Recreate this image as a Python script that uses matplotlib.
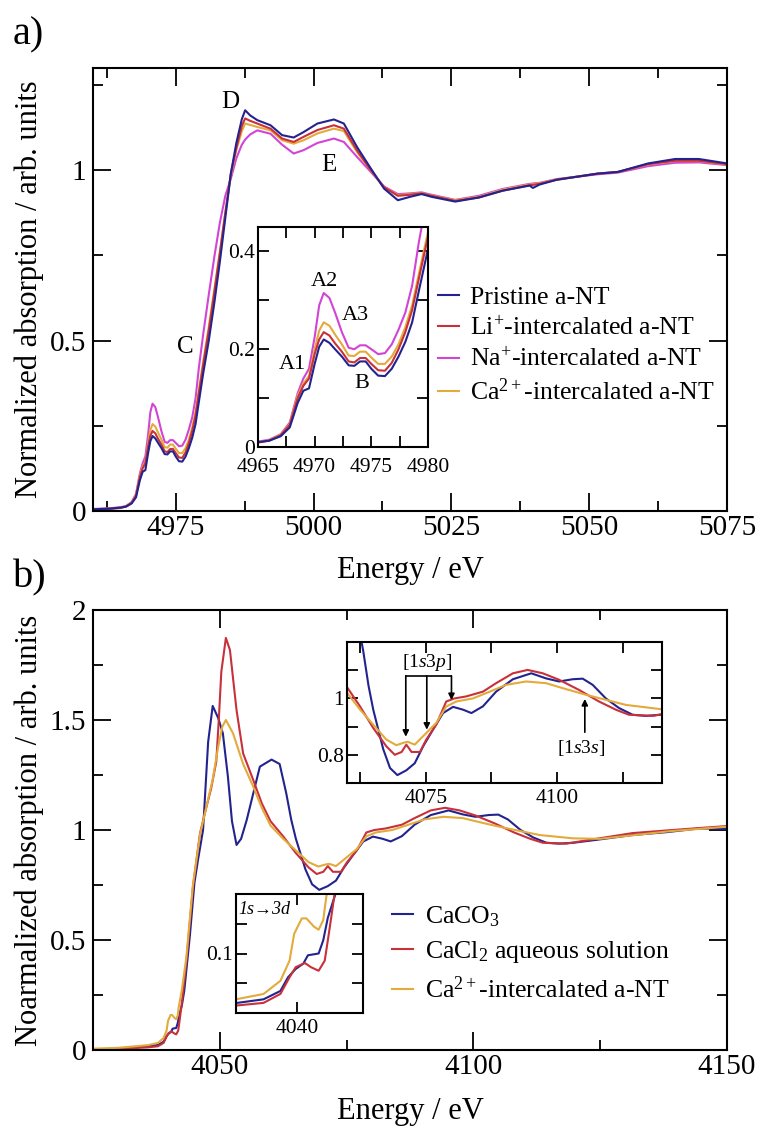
import numpy as np
import matplotlib
matplotlib.use("Agg")
import matplotlib.pyplot as plt
from matplotlib.ticker import MultipleLocator, FormatStrFormatter
from matplotlib.lines import Line2D

plt.rcParams['font.family'] = ['Liberation Serif', 'DejaVu Serif']
plt.rcParams['mathtext.fontset'] = 'custom'
plt.rcParams['mathtext.rm'] = 'Liberation Serif'
plt.rcParams['mathtext.it'] = 'Liberation Serif:italic'

# ---- panel a data (Ti K-edge) ----
E_a = [4960, 4963, 4965, 4966, 4967, 4967.8, 4968.5, 4969.0, 4969.5, 4970.0,
       4970.4, 4970.8, 4971.3, 4971.8, 4972.4, 4973.0, 4973.5, 4974.0, 4974.5, 4975.0,
       4975.6, 4976.2, 4976.8, 4977.4, 4978.0, 4978.6, 4979.2, 4980, 4981, 4982,
       4983, 4984, 4985, 4986, 4987, 4987.6, 4988.5, 4989.8, 4992.2, 4994.3,
       4996.4, 4998.2, 5000.7, 5003.7, 5005.5, 5007.9, 5010.4, 5012.8, 5015.3, 5017.5,
       5019.6, 5021.4, 5025.7, 5030, 5034.3, 5039.2, 5039.8, 5041, 5044.1, 5051.5,
       5055.2, 5060.7, 5065.6, 5069.9, 5075]

pristine = [0.005, 0.007, 0.010, 0.013, 0.022, 0.040, 0.090, 0.115, 0.120, 0.170,
            0.205, 0.220, 0.213, 0.200, 0.185, 0.167, 0.166, 0.175, 0.175, 0.160,
            0.146, 0.145, 0.160, 0.185, 0.215, 0.255, 0.320, 0.405, 0.500, 0.610,
            0.730, 0.860, 0.990, 1.080, 1.150, 1.176, 1.161, 1.147, 1.132, 1.103,
            1.096, 1.112, 1.137, 1.149, 1.137, 1.068, 1.005, 0.946, 0.912, 0.922,
            0.930, 0.922, 0.908, 0.920, 0.940, 0.955, 0.948, 0.958, 0.972, 0.990,
            0.995, 1.020, 1.033, 1.033, 1.020]

li_nt = [0.004, 0.006, 0.009, 0.013, 0.024, 0.045, 0.100, 0.125, 0.140, 0.190,
         0.220, 0.235, 0.228, 0.212, 0.195, 0.175, 0.173, 0.182, 0.182, 0.170,
         0.157, 0.156, 0.172, 0.200, 0.235, 0.280, 0.345, 0.430, 0.530, 0.640,
         0.755, 0.875, 0.990, 1.065, 1.130, 1.152, 1.145, 1.137, 1.122, 1.093,
         1.083, 1.098, 1.118, 1.132, 1.122, 1.058, 1.000, 0.950, 0.925, 0.928,
         0.932, 0.925, 0.910, 0.920, 0.940, 0.956, 0.957, 0.960, 0.972, 0.990,
         0.995, 1.018, 1.028, 1.028, 1.018]

na_nt = [0.006, 0.008, 0.011, 0.015, 0.026, 0.050, 0.110, 0.140, 0.160, 0.225,
         0.290, 0.315, 0.305, 0.275, 0.235, 0.203, 0.200, 0.208, 0.208, 0.200,
         0.190, 0.192, 0.210, 0.240, 0.275, 0.330, 0.420, 0.520, 0.635, 0.745,
         0.845, 0.925, 0.975, 1.035, 1.075, 1.090, 1.105, 1.117, 1.107, 1.075,
         1.049, 1.059, 1.080, 1.093, 1.083, 1.039, 0.995, 0.952, 0.930, 0.932,
         0.935, 0.928, 0.913, 0.925, 0.945, 0.960, 0.961, 0.963, 0.974, 0.988,
         0.993, 1.012, 1.022, 1.023, 1.015]

ca_nt = [0.005, 0.007, 0.010, 0.014, 0.025, 0.047, 0.105, 0.130, 0.145, 0.200,
         0.238, 0.255, 0.248, 0.230, 0.210, 0.187, 0.186, 0.195, 0.195, 0.183,
         0.170, 0.170, 0.185, 0.210, 0.245, 0.290, 0.355, 0.440, 0.540, 0.650,
         0.760, 0.875, 0.985, 1.060, 1.115, 1.137, 1.133, 1.127, 1.117, 1.088,
         1.078, 1.088, 1.108, 1.122, 1.115, 1.053, 1.000, 0.950, 0.927, 0.930,
         0.933, 0.926, 0.912, 0.922, 0.943, 0.958, 0.959, 0.962, 0.973, 0.990,
         0.995, 1.017, 1.027, 1.027, 1.017]

labels_a = ["Pristine a-NT", "Li$^{+}$-intercalated a-NT",
            "Na$^{+}$-intercalated a-NT", "Ca$^{2+}$-intercalated a-NT"]

# ---- panel b data (Ca K-edge) ----
E_caco3 = [4025, 4030, 4035.8, 4037.8, 4038.9, 4039.4, 4039.9, 4040.4, 4040.7, 4041.4,
           4041.7, 4042.0, 4042.5, 4043.0, 4044.1, 4045.0, 4045.7, 4046.7, 4047.7, 4048.6,
           4049.7, 4050.6, 4051.6, 4052.4, 4053.3, 4054.2, 4055.3, 4057.9, 4060.2, 4061.8,
           4063.1, 4064.1, 4065.0, 4066.9, 4068.2, 4069.6, 4071.3, 4072.9, 4074.5, 4076.4,
           4078.3, 4080.2, 4082.1, 4083.7, 4085.9, 4088.4, 4091.6, 4095.1, 4097.9, 4100.4,
           4103.0, 4104.9, 4106.8, 4109.3, 4111.8, 4114.4, 4116.9, 4119.7, 4124.2, 4131.3,
           4138.0, 4144.5, 4150]
caco3 = [0.003, 0.006, 0.016, 0.023, 0.037, 0.060, 0.074, 0.083, 0.097, 0.100,
         0.122, 0.160, 0.200, 0.270, 0.520, 0.760, 0.864, 1.000, 1.400, 1.564,
         1.508, 1.440, 1.242, 1.040, 0.932, 0.960, 1.045, 1.288, 1.320, 1.300,
         1.167, 1.045, 0.960, 0.820, 0.753, 0.728, 0.745, 0.770, 0.830, 0.890,
         0.948, 0.970, 0.960, 0.948, 0.972, 1.024, 1.068, 1.089, 1.071, 1.060,
         1.068, 1.070, 1.048, 1.000, 0.966, 0.942, 0.938, 0.942, 0.955, 0.977,
         0.990, 1.007, 1.005]

E_cacl2 = [4025, 4030, 4035.8, 4037.8, 4038.9, 4039.5, 4039.9, 4040.5, 4040.9, 4041.4,
           4041.8, 4042.1, 4042.5, 4043.4, 4044.7, 4046.1, 4047.2, 4048.3, 4049.3, 4049.8,
           4050.3, 4051.2, 4052.0, 4053.3, 4054.6, 4056.6, 4058.3, 4060.0, 4062.5, 4065.0,
           4067.5, 4069.1, 4070.4, 4071.3, 4072.3, 4073.9, 4075.1, 4077.0, 4078.9, 4080.5,
           4082.7, 4085.9, 4088.4, 4091.6, 4094.4, 4097.3, 4100.4, 4104.2, 4108.0, 4111.2,
           4113.7, 4118.3, 4124.8, 4131.4, 4139.3, 4150]
cacl2 = [0.003, 0.005, 0.012, 0.017, 0.032, 0.060, 0.077, 0.084, 0.077, 0.071,
         0.088, 0.139, 0.210, 0.400, 0.740, 0.985, 1.090, 1.190, 1.310, 1.500,
         1.720, 1.873, 1.818, 1.545, 1.348, 1.227, 1.120, 1.040, 0.971, 0.895,
         0.830, 0.800, 0.810, 0.836, 0.810, 0.810, 0.854, 0.907, 0.989, 1.000,
         1.007, 1.024, 1.054, 1.089, 1.101, 1.089, 1.066, 1.030, 0.989, 0.960,
         0.942, 0.938, 0.962, 0.986, 1.000, 1.018]

E_cant = [4025, 4030, 4035.8, 4037.8, 4038.9, 4039.5, 4039.8, 4040.3, 4040.6, 4041.1,
          4041.4, 4041.7, 4041.9, 4042.5, 4043.4, 4044.7, 4046.1, 4047.5, 4048.6, 4049.7,
          4050.5, 4051.2, 4052.6, 4054.6, 4056.6, 4058.3, 4060.0, 4062.5, 4065.0, 4067.5,
          4069.4, 4071.0, 4071.6, 4072.9, 4074.5, 4077.0, 4078.9, 4080.8, 4084.0, 4087.2,
          4090.3, 4094.1, 4097.9, 4101.7, 4105.5, 4109.3, 4113.1, 4119.7, 4125.0, 4131.0,
          4139.0, 4150]
cant = [0.006, 0.010, 0.022, 0.032, 0.054, 0.088, 0.133, 0.159, 0.159, 0.145,
        0.140, 0.156, 0.195, 0.270, 0.420, 0.750, 0.980, 1.120, 1.230, 1.380,
        1.470, 1.500, 1.440, 1.300, 1.197, 1.100, 1.020, 0.960, 0.907, 0.854,
        0.834, 0.844, 0.846, 0.836, 0.866, 0.913, 0.971, 0.989, 1.000, 1.024,
        1.048, 1.060, 1.054, 1.033, 1.013, 0.995, 0.977, 0.962, 0.960, 0.975,
        0.995, 1.015]

labels_b = ["CaCO$_3$", "CaCl$_2$ aqueous solution", "Ca$^{2+}$-intercalated a-NT"]

c_blue = '#23238f'
c_red = '#c8303a'
c_mag = '#d244d6'
c_gold = '#e3aa3c'
lw = 1.5

W, H = 759, 1126
fig = plt.figure(figsize=(W / 100, H / 100), dpi=100)


def box(l, t, r, b):
    # pixel box -> figure fraction
    return [l / W, 1 - b / H, (r - l) / W, (b - t) / H]


def style(ax, size, major, minor, pad_x, pad_y):
    ax.tick_params(which='both', direction='in', top=True, right=True,
                   width=1.3, labelsize=size)
    ax.tick_params(axis='x', pad=pad_x)
    ax.tick_params(axis='y', pad=pad_y)
    ax.tick_params(which='major', length=major)
    ax.tick_params(which='minor', length=minor)
    for s in ax.spines.values():
        s.set_linewidth(1.5)
    ax.xaxis.set_major_formatter(FormatStrFormatter('%g'))
    ax.yaxis.set_major_formatter(FormatStrFormatter('%g'))


def draw_a(ax):
    ax.plot(E_a, na_nt, color=c_mag, lw=lw)
    ax.plot(E_a, ca_nt, color=c_gold, lw=lw)
    ax.plot(E_a, li_nt, color=c_red, lw=lw)
    ax.plot(E_a, pristine, color=c_blue, lw=lw)


def draw_b(ax):
    ax.plot(E_caco3, caco3, color=c_blue, lw=lw)
    ax.plot(E_cacl2, cacl2, color=c_red, lw=lw)
    ax.plot(E_cant, cant, color=c_gold, lw=lw)


# ---------------- panel a ----------------
ax_a = fig.add_axes(box(93, 68, 727, 511))
draw_a(ax_a)
ax_a.set_xlim(4960, 5075)
ax_a.set_ylim(0, 1.3)
ax_a.xaxis.set_major_locator(MultipleLocator(25))
ax_a.xaxis.set_minor_locator(MultipleLocator(12.5))
ax_a.yaxis.set_major_locator(MultipleLocator(0.5))
ax_a.yaxis.set_minor_locator(MultipleLocator(0.25))
style(ax_a, 21, 13, 7.5, 3, 5)
ax_a.set_xlabel("Energy / eV", fontsize=22)
ax_a.set_ylabel("Normalized absorption / arb. units", fontsize=22)
ax_a.xaxis.set_label_coords(0.5, -0.102)
ax_a.yaxis.set_label_coords(-0.078, 0.5)
ax_a.text(4984.9, 1.2, "D", fontsize=18, ha='center', va='center')
ax_a.text(5002.7, 1.015, "E", fontsize=18, ha='center', va='center')
ax_a.text(4976.7, 0.48, "C", fontsize=18, ha='center', va='center')

handles_a = [Line2D([], [], color=c, lw=lw) for c in (c_blue, c_red, c_mag, c_gold)]
ax_a.legend(handles_a, labels_a, loc='upper left',
            bbox_to_anchor=(438 / W, 1 - 286 / H), bbox_transform=fig.transFigure,
            frameon=False, fontsize=18.5, handlelength=0.8, handletextpad=0.45,
            labelspacing=0.28, borderpad=0, borderaxespad=0)

ins_a = fig.add_axes(box(258, 227, 428, 447))
draw_a(ins_a)
ins_a.set_xlim(4965, 4980)
ins_a.set_ylim(0, 0.45)
ins_a.xaxis.set_major_locator(MultipleLocator(5))
ins_a.xaxis.set_minor_locator(MultipleLocator(2.5))
ins_a.yaxis.set_major_locator(MultipleLocator(0.2))
ins_a.yaxis.set_minor_locator(MultipleLocator(0.1))
style(ins_a, 15.5, 8, 8, 8, 2)
for txt, x, y in [("A1", 4968.0, 0.168), ("A2", 4970.9, 0.338),
                  ("A3", 4973.6, 0.27), ("B", 4974.15, 0.13)]:
    ins_a.text(x, y, txt, fontsize=16, ha='center', va='center')

# ---------------- panel b ----------------
ax_b = fig.add_axes(box(93, 610, 727, 1050))
draw_b(ax_b)
ax_b.set_xlim(4025, 4150)
ax_b.set_ylim(0, 2.0)
ax_b.xaxis.set_major_locator(MultipleLocator(50))
ax_b.xaxis.set_minor_locator(MultipleLocator(25))
ax_b.yaxis.set_major_locator(MultipleLocator(0.5))
ax_b.yaxis.set_minor_locator(MultipleLocator(0.25))
style(ax_b, 21, 13, 7.5, 3, 5)
ax_b.set_xlabel("Energy / eV", fontsize=22)
ax_b.set_ylabel("Noarmalized absorption / arb. units", fontsize=22)
ax_b.xaxis.set_label_coords(0.5, -0.106)
ax_b.yaxis.set_label_coords(-0.078, 0.5)

handles_b = [Line2D([], [], color=c, lw=lw) for c in (c_blue, c_red, c_gold)]
ax_b.legend(handles_b, labels_b, loc='upper left',
            bbox_to_anchor=(392 / W, 1 - 904 / H), bbox_transform=fig.transFigure,
            frameon=False, fontsize=18.5, handlelength=0.8, handletextpad=0.5,
            labelspacing=0.42, borderpad=0, borderaxespad=0)

ins_b1 = fig.add_axes(box(347, 642, 662, 783))
draw_b(ins_b1)
ins_b1.set_xlim(4060, 4120)
ins_b1.set_ylim(0.7, 1.2)
ins_b1.xaxis.set_major_locator(MultipleLocator(25))
ins_b1.xaxis.set_minor_locator(MultipleLocator(12.5))
ins_b1.set_yticks([0.8, 1.0])
ins_b1.set_yticks([0.9, 1.1], minor=True)
style(ins_b1, 15.5, 8, 8, 4, 2)

# [1s3p] bracket with three arrows
p_x = [4071.2, 4075.2, 4079.9]
p_y = [0.864, 0.889, 0.994]
ins_b1.plot([p_x[0], p_x[-1]], [1.08, 1.08], color='black', lw=1.2)
for x, y in zip(p_x, p_y):
    ins_b1.annotate("", xy=(x, y), xytext=(x, 1.08),
                    arrowprops=dict(arrowstyle='-|>', color='black', lw=1.2,
                                    mutation_scale=9, shrinkA=0, shrinkB=0))
ins_b1.text(4075.2, 1.126, r"[$\mathit{1s3p}$]", fontsize=14, ha='center', va='center')
ins_b1.annotate("", xy=(4105.3, 0.998), xytext=(4105.3, 0.88),
                arrowprops=dict(arrowstyle='-|>', color='black', lw=1.2,
                                mutation_scale=9, shrinkA=0, shrinkB=0))
ins_b1.text(4104.6, 0.825, r"[$\mathit{1s3s}$]", fontsize=14, ha='center', va='center')

ins_b2 = fig.add_axes(box(236, 894, 363, 1013))
draw_b(ins_b2)
ins_b2.set_xlim(4036, 4044.3)
ins_b2.set_ylim(0, 0.2)
ins_b2.set_xticks([4040])
ins_b2.set_yticks([0.1])
ins_b2.set_yticks([0.05, 0.15], minor=True)
style(ins_b2, 15.5, 8, 8, 4, 2)
ins_b2.text(0.02, 0.866, "1s→3d", transform=ins_b2.transAxes, fontsize=13,
            style='italic', ha='left', va='center')

fig.text(13 / W, 1 - 35 / H, "a)", fontsize=29, ha='left', va='center')
fig.text(13 / W, 1 - 578 / H, "b)", fontsize=29, ha='left', va='center')

fig.savefig("out.png", dpi=100)
